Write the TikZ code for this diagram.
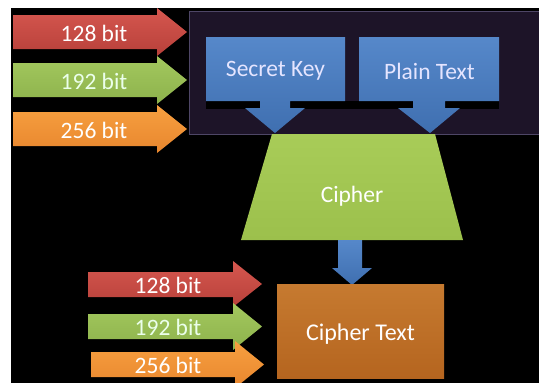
\documentclass[tikz,border=0pt]{standalone}
\usepackage{fontspec}
\setmainfont{Carlito}
\definecolor{panel}{HTML}{1D1428}
\definecolor{panelline}{HTML}{4E4666}
\definecolor{blueT}{HTML}{5688CA}
\definecolor{blueB}{HTML}{3F6FB0}
\definecolor{redT}{HTML}{D5574F}
\definecolor{redB}{HTML}{B8403A}
\definecolor{greenT}{HTML}{A3C85E}
\definecolor{greenB}{HTML}{8DB24C}
\definecolor{orangeT}{HTML}{F7A040}
\definecolor{orangeB}{HTML}{E8862E}
\definecolor{ciphT}{HTML}{A8CC58}
\definecolor{ciphB}{HTML}{9CC04C}
\definecolor{ctT}{HTML}{C67A30}
\definecolor{ctB}{HTML}{B5651F}
\begin{document}
\begin{tikzpicture}[x=1pt,y=-1pt,
  lbl/.style={text=white, font=\fontsize{23.5}{23.5}\selectfont, inner sep=0pt, anchor=center},
  boxlbl/.style={text=white!90!blue, font=\fontsize{23.5}{23.5}\selectfont, inner sep=0pt, anchor=center},
  bluefill/.style={top color=blueT, bottom color=blueB},
  redfill/.style={top color=redT, bottom color=redB},
  greenfill/.style={top color=greenT, bottom color=greenB},
  orangefill/.style={top color=orangeT, bottom color=orangeB}]
\useasboundingbox (0,0) rectangle (539,383);
\fill[white] (0,0) rectangle (539,383);
\fill[black] (11,8) rectangle (539,383);
\begin{scope}
\clip (11,8) rectangle (539,383);
% top panel
\draw[fill=panel, draw=panelline, line width=1pt] (189,11) rectangle (545,134);
\fill[black] (206,101) rectangle (499,108.5);
% Secret Key callout
\path[bluefill] (206,37) -- (345,37) -- (345,101) -- (290,101) -- (290,108) -- (305,108)
  -- (275,133) -- (245,108) -- (260,108) -- (260,101) -- (206,101) -- cycle;
\node[boxlbl] (sk) at (275.5,71) {Secret Key};
% Plain Text callout
\path[bluefill] (359,37) -- (499,37) -- (499,101) -- (445,101) -- (445,108) -- (460,108)
  -- (430,133) -- (398,108) -- (413,108) -- (413,101) -- (359,101) -- cycle;
\node[boxlbl] (pt) at (429.5,71) {Plain Text};
% Cipher trapezoid
\path[top color=ciphT, bottom color=ciphB] (272,134) -- (435,134) -- (463,240) -- (241,240) -- cycle;
\node[lbl] (ci) at (352,196) {Cipher};
% down arrow
\path[bluefill] (338,240) -- (362,240) -- (362,268) -- (372,268) -- (352,285) -- (332,268) -- (338,268) -- cycle;
% Cipher Text box
\path[top color=ctT, bottom color=ctB] (277,284) rectangle (444,378);
\node[lbl, font=\fontsize{24}{24}\selectfont] (ct) at (360.5,334) {Cipher Text};
% top-left arrows
\path[redfill] (13,15) -- (157,15) -- (157,8) -- (187,32) -- (157,56) -- (157,49) -- (13,49) -- cycle;
\node[lbl] (a1) at (94,33) {128 bit};
\path[greenfill] (13,63) -- (157,63) -- (157,56) -- (187,80) -- (157,104) -- (157,97) -- (13,97) -- cycle;
\node[lbl, text=white!92!green] (a2) at (94,81) {192 bit};
\path[orangefill] (13,112) -- (157,112) -- (157,105) -- (187,129) -- (157,153) -- (157,146) -- (13,146) -- cycle;
\node[lbl] (a3) at (94,130) {256 bit};
% bottom-left arrows
\path[redfill] (88,272) -- (233,272) -- (233,261) -- (262,284) -- (233,307) -- (233,297) -- (88,297) -- cycle;
\node[lbl] (b1) at (168,285) {128 bit};
\path[greenfill] (88,314) -- (233,314) -- (233,303) -- (262,326.5) -- (233,350) -- (233,339) -- (88,339) -- cycle;
\node[lbl, text=white!92!green] (b2) at (168,327) {192 bit};
\path[orangefill] (91,352) -- (235,352) -- (235,341) -- (264,364.5) -- (235,388) -- (235,377) -- (91,377) -- cycle;
\node[lbl] (b3) at (168,365) {256 bit};
\end{scope}
\end{tikzpicture}
\end{document}
